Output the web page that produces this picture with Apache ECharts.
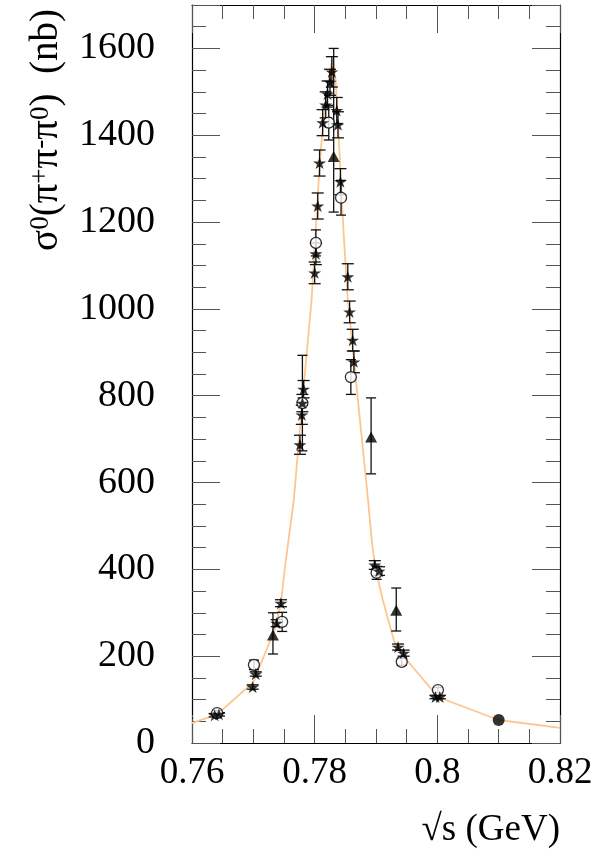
<!DOCTYPE html>
<html>
<head>
<meta charset="utf-8">
<script src="https://cdn.jsdelivr.net/npm/echarts@6/dist/echarts.min.js"></script>
<style>
  html, body { margin: 0; padding: 0; background: #fff; }
  #chart { width: 613px; height: 850px; }
</style>
</head>
<body>
<div id="chart"></div>
<script>
// Axis ranges and tick labels
const xTickLabels = ['0.76', '0.78', '0.8', '0.82'];
const yTickLabels = ['0', '200', '400', '600', '800', '1000', '1200', '1400', '1600'];

// Fit curve (sqrt(s) in GeV, cross section in nb)
const curveS = [0.7600, 0.7641, 0.7700, 0.7735, 0.7745, 0.7752, 0.7766, 0.7780, 0.7795, 0.7808,
                0.7814, 0.7820, 0.7825, 0.7829, 0.7834, 0.7837, 0.7841, 0.7847, 0.7854, 0.7865,
                0.7877, 0.7887, 0.7893, 0.7898, 0.7911, 0.7929, 0.7942, 0.8001, 0.8100, 0.8200];
const curveV = [46, 66, 140, 262, 322, 410, 560, 790, 1021, 1330,
                1430, 1500, 1548, 1575, 1530, 1460, 1343, 1180, 1021, 867,
                700, 560, 468, 410, 330, 237, 205, 106, 53, 35];

// Data set drawn with stars
const starS = [0.7592, 0.7637, 0.7644, 0.7699, 0.7704, 0.7738, 0.7745, 0.7776, 0.7779, 0.7780,
               0.7782, 0.7800, 0.7802, 0.7805, 0.7808, 0.7813, 0.7818, 0.7821, 0.7825, 0.7828,
               0.7836, 0.7838, 0.7842, 0.7854, 0.7857, 0.7862, 0.7864, 0.7898, 0.7905, 0.7936,
               0.7945, 0.7997, 0.8004];
const starV = [71, 64, 66, 129, 159, 276, 322, 687, 756, 783,
               815, 1083, 1127, 1237, 1336, 1429, 1470, 1495, 1522, 1546,
               1457, 1424, 1293, 1074, 993, 928, 878, 410, 396, 221,
               207, 106, 106];
const starE = [14, 4, 4, 5, 5, 8, 8, 22, 22, 20,
               20, 25, 25, 30, 30, 30, 30, 30, 30, 35,
               30, 30, 30, 30, 25, 25, 25, 10, 10, 7,
               7, 4, 4];

// Data set drawn with open circles
const circS = [0.7641, 0.7701, 0.7747, 0.7780, 0.7802, 0.7823, 0.7843, 0.7859, 0.7901, 0.7942, 0.8001];
const circV = [69, 180, 279, 783, 1152, 1429, 1256, 843, 392, 187, 122];
const circE = [6, 11, 22, 110, 30, 40, 40, 40, 15, 8, 6];

// Data set drawn with triangles (asymmetric errors)
const triS  = [0.7732, 0.7831, 0.7892, 0.7933];
const triV  = [249, 1351, 705, 306];
const triLo = [205, 1223, 620, 258];
const triHi = [300, 1600, 795, 357];

// Single point drawn with a filled circle
const dotS = [0.8100];
const dotV = [53];

const FONT = "'Liberation Serif', 'Times New Roman', 'DejaVu Serif', serif";
const STAR = 'path://M50,0 L61.2,34.5 L97.6,34.5 L68.2,55.9 L79.4,90.5 L50,69.1 L20.6,90.5 L31.8,55.9 L2.4,34.5 L38.8,34.5 Z';

const pairs = (xs, ys) => xs.map((x, i) => [x, ys[i]]);
const symErr = (xs, ys, es) => xs.map((x, i) => [x, ys[i] - es[i], ys[i] + es[i]]);

function errorBars(capHalf) {
  return function (params, api) {
    const x = api.value(0);
    const lo = api.coord([x, api.value(1)]);
    const hi = api.coord([x, api.value(2)]);
    const st = { stroke: '#111', lineWidth: 1.3 };
    return {
      type: 'group',
      children: [
        { type: 'line', shape: { x1: lo[0], y1: lo[1], x2: hi[0], y2: hi[1] }, style: st },
        { type: 'line', shape: { x1: lo[0] - capHalf, y1: lo[1], x2: lo[0] + capHalf, y2: lo[1] }, style: st },
        { type: 'line', shape: { x1: hi[0] - capHalf, y1: hi[1], x2: hi[0] + capHalf, y2: hi[1] }, style: st }
      ]
    };
  };
}

const tickStyle = { color: '#555', width: 1 };
function xAxisDef(position, showLabels) {
  return {
    type: 'value', position, min: 0.76, max: 0.82, interval: 0.02,
    axisLine: { show: true, onZero: false, lineStyle: { color: '#000', width: 1.2 } },
    axisTick: { show: true, inside: true, length: 28, lineStyle: tickStyle },
    minorTick: { show: true, splitNumber: 4, length: 14, lineStyle: tickStyle },
    splitLine: { show: false }, minorSplitLine: { show: false },
    axisLabel: {
      show: showLabels, margin: 12, fontFamily: FONT, fontSize: 37, color: '#000',
      formatter: (v) => xTickLabels.find(t => Math.abs(parseFloat(t) - v) < 1e-6) || ''
    }
  };
}
function yAxisDef(position, step, tickLen, showLabels, showLine) {
  return {
    type: 'value', position, min: 0, max: 1700, interval: step,
    axisLine: { show: showLine, onZero: false, lineStyle: { color: '#000', width: 1.2 } },
    axisTick: { show: true, inside: true, length: tickLen, lineStyle: tickStyle },
    splitLine: { show: false },
    axisLabel: {
      show: showLabels, margin: 37, fontFamily: FONT, fontSize: 38, color: '#000',
      formatter: (v) => (yTickLabels.indexOf(String(v)) >= 0 ? String(v) : '')
    }
  };
}

const chart = echarts.init(document.getElementById('chart'), null, { renderer: 'canvas' });
chart.setOption({
  animation: false,
  backgroundColor: '#fff',
  grid: { left: 192, right: 53, top: 5, bottom: 107, containLabel: false },
  xAxis: [xAxisDef('bottom', true), xAxisDef('top', false)],
  yAxis: [
    yAxisDef('left', 200, 28, true, true),
    yAxisDef('left', 50, 14, false, false),
    yAxisDef('right', 200, 28, false, true),
    yAxisDef('right', 50, 14, false, false)
  ],
  graphic: [
    {
      type: 'text', x: 47, y: 130, rotation: Math.PI / 2,
      style: {
        text: 'σ{s|0}(π{s|+}π{s|-}π{s|0})  (nb)',
        textAlign: 'center', textVerticalAlign: 'middle',
        font: '39px ' + FONT, fill: '#000',
        rich: {
          s: { fontFamily: FONT, fontSize: 27, lineHeight: 24, verticalAlign: 'top', fill: '#000' }
        }
      }
    },
    {
      type: 'text', x: 560, y: 849,
      style: {
        text: '√s (GeV)', textAlign: 'right', textVerticalAlign: 'bottom',
        font: '37px ' + FONT, fill: '#000'
      }
    }
  ],
  series: [
    {
      type: 'line', data: pairs(curveS, curveV), showSymbol: false, symbol: 'none',
      lineStyle: { color: '#fdc690', width: 1.8 }, z: 1, clip: true
    },
    { type: 'custom', renderItem: errorBars(6), data: symErr(starS, starV, starE), z: 2, clip: true },
    { type: 'custom', renderItem: errorBars(5), data: symErr(circS, circV, circE), z: 2, clip: true },
    { type: 'custom', renderItem: errorBars(5), data: triS.map((s, i) => [s, triLo[i], triHi[i]]), z: 2, clip: true },
    {
      type: 'scatter', data: pairs(circS, circV), symbol: 'circle', symbolSize: 11,
      itemStyle: { color: '#fff', borderColor: '#000', borderWidth: 1.3 }, z: 3, clip: true
    },
    {
      type: 'scatter', data: pairs(triS, triV), symbol: 'triangle', symbolSize: [12, 11],
      itemStyle: { color: '#000' }, z: 4, clip: true
    },
    {
      type: 'scatter', data: pairs(starS, starV), symbol: STAR, symbolSize: [13, 12],
      itemStyle: { color: '#000' }, z: 5, clip: true
    },
    {
      type: 'scatter', data: pairs(dotS, dotV), symbol: 'circle', symbolSize: 12,
      itemStyle: { color: '#000' }, z: 6, clip: true
    }
  ]
});
</script>
</body>
</html>
